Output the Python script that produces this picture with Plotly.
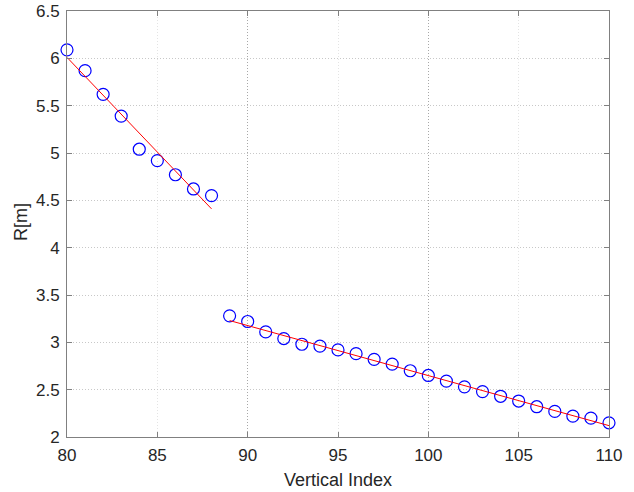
import plotly.graph_objects as go

x1 = [80, 81, 82, 83, 84, 85, 86, 87, 88]
r1 = [6.09, 5.87, 5.62, 5.39, 5.04, 4.92, 4.77, 4.62, 4.55]
x2 = [89, 90, 91, 92, 93, 94, 95, 96, 97, 98, 99, 100, 101, 102, 103, 104, 105, 106, 107, 108, 109, 110]
r2 = [3.28, 3.22, 3.11, 3.04, 2.98, 2.96, 2.92, 2.88, 2.82, 2.77, 2.70, 2.65,
      2.59, 2.53, 2.48, 2.43, 2.38, 2.32, 2.27, 2.22, 2.20, 2.15]
fit1_x = [80, 88]
fit1_y = [6.01, 4.41]
fit2_x = [89, 110]
fit2_y = [3.23, 2.12]
xticks = [80, 85, 90, 95, 100, 105, 110]
yticks = [2, 2.5, 3, 3.5, 4, 4.5, 5, 5.5, 6, 6.5]

fig = go.Figure()
marker = dict(symbol="circle-open", size=12, color="#0000ff", line=dict(width=1.2, color="#0000ff"))
fig.add_trace(go.Scatter(x=x1, y=r1, mode="markers", marker=marker, showlegend=False, cliponaxis=False))
fig.add_trace(go.Scatter(x=x2, y=r2, mode="markers", marker=marker, showlegend=False, cliponaxis=False))
fig.add_trace(go.Scatter(x=fit1_x, y=fit1_y, mode="lines", line=dict(color="#ff0000", width=1), showlegend=False))
fig.add_trace(go.Scatter(x=fit2_x, y=fit2_y, mode="lines", line=dict(color="#ff0000", width=1), showlegend=False))

axfont = dict(family="Liberation Sans, Arial", size=17, color="#262626")
titlefont = dict(family="Liberation Sans, Arial", size=18, color="#262626")
fig.update_layout(
    width=634, height=492,
    margin=dict(l=67, r=25, t=11, b=55),
    paper_bgcolor="white", plot_bgcolor="white",
    font=axfont,
    xaxis=dict(range=[79.9999, 110.0001], tickvals=xticks, ticks="inside", ticklen=5, tickcolor="#808080",
               showline=True, linecolor="#808080", linewidth=1, mirror="ticks",
               showgrid=True, gridcolor="#e4e4e4", griddash="1px,2px", gridwidth=1, zeroline=False,
               tickfont=axfont, ticklabelstandoff=3, ticklabeloverflow="allow", automargin=False),
    yaxis=dict(range=[2, 6.5], tickvals=yticks, ticktext=[("%g" % v) for v in yticks],
               ticks="inside", ticklen=5, tickcolor="#808080",
               showline=True, linecolor="#808080", linewidth=1, mirror="ticks",
               showgrid=True, gridcolor="#c8c8c8", griddash="1px,2px", gridwidth=1, zeroline=False,
               tickfont=axfont, ticklabelstandoff=3, automargin=False),
    xaxis2=dict(range=[79.9999, 110.0001], tickvals=[90, 100], overlaying="x", showticklabels=False,
                ticks="", showgrid=True, gridcolor="#a8a8a8", griddash="1px,2px", gridwidth=1,
                zeroline=False, showline=False, layer="below traces", automargin=False),
    annotations=[
        dict(text="Vertical Index", xref="paper", yref="paper", x=0.5, y=-0.101,
             showarrow=False, font=titlefont, xanchor="center", yanchor="middle"),
        dict(text="R[m]", xref="paper", yref="paper", x=-0.0846, y=0.505, textangle=-90,
             showarrow=False, font=titlefont, xanchor="center", yanchor="middle"),
    ],
)
fig.add_trace(go.Scatter(x=[80], y=[2], xaxis="x2", mode="markers", marker=dict(opacity=0), showlegend=False, hoverinfo="skip"))
fig.write_html("out.html")
